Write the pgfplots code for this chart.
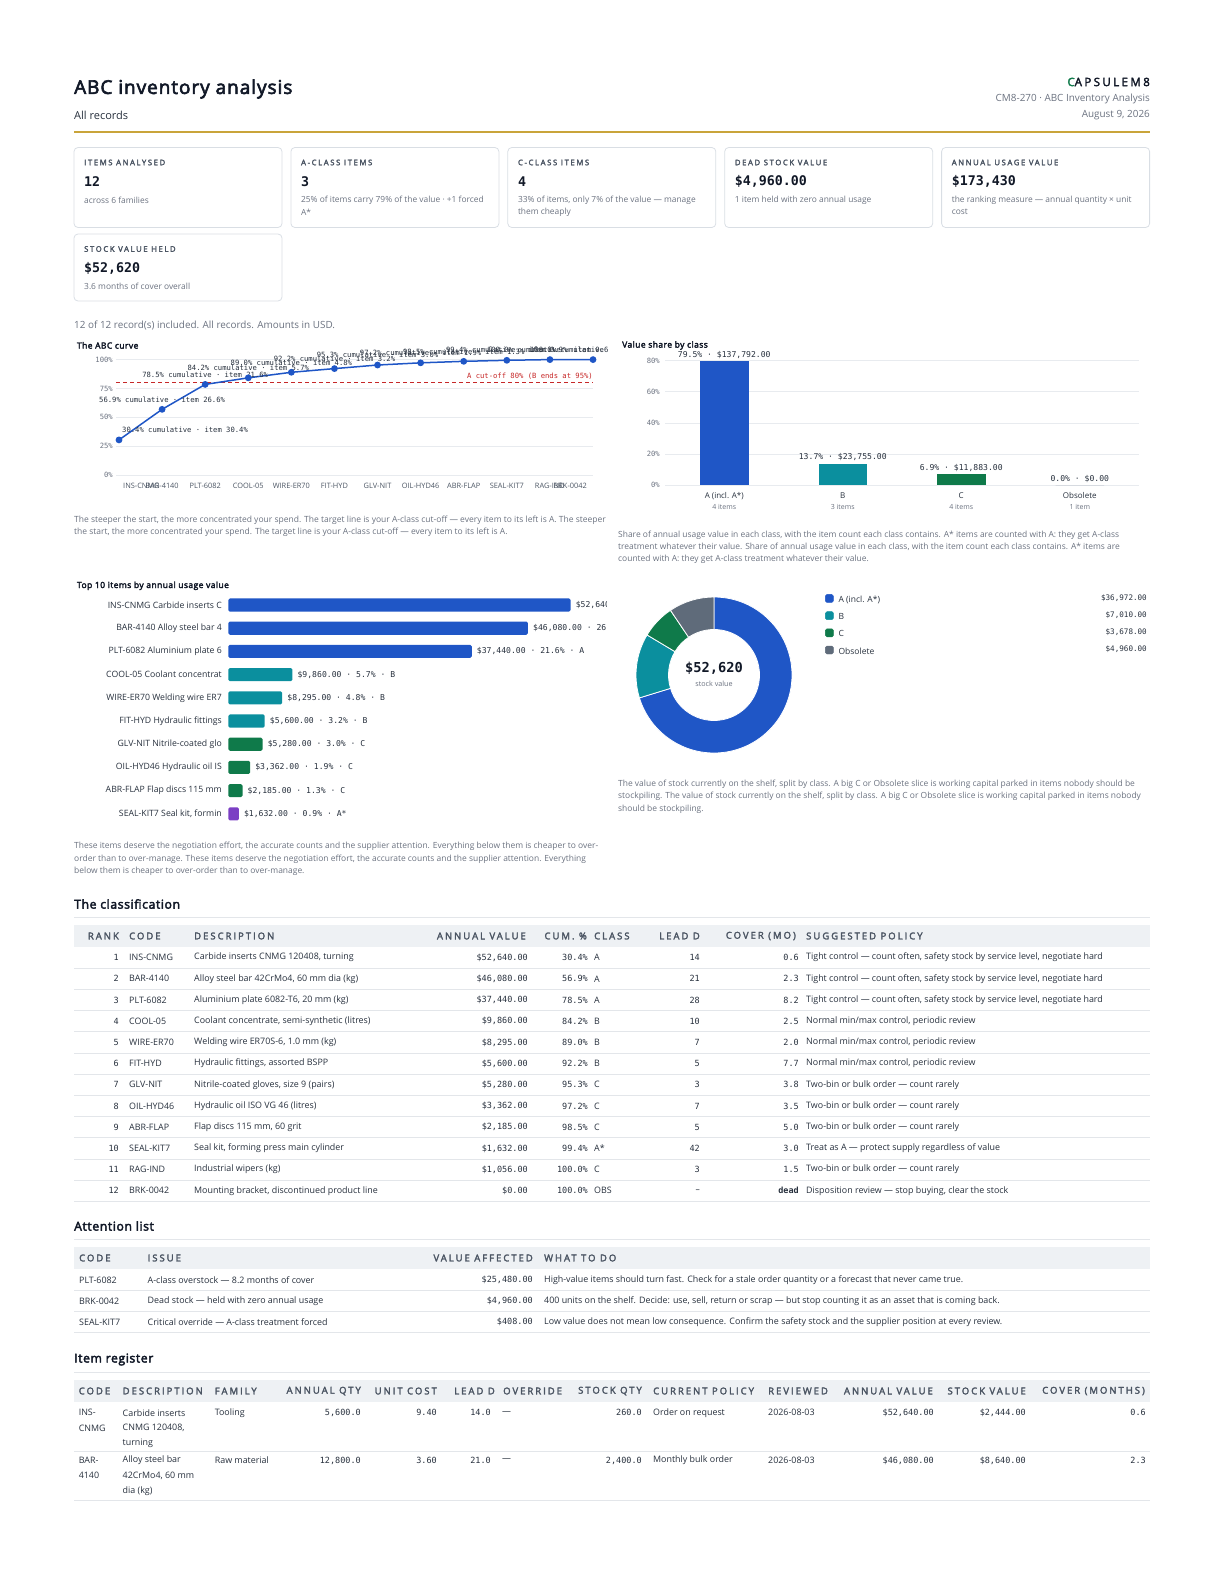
\documentclass[border=0pt]{standalone}
\usepackage{fontspec}
\setmainfont{Open Sans}[BoldFont={Open Sans}, BoldFeatures={FakeBold=3.2, LetterSpace=5}]
\newfontfamily\mono{DejaVu Sans Mono}
\newfontfamily\spaced{Open Sans}[LetterSpace=21, BoldFont={Open Sans}, BoldFeatures={FakeBold=2.8}]
\usepackage{pgfplots}
\pgfplotsset{compat=1.18}
\definecolor{ink}{HTML}{111827}
\definecolor{body}{HTML}{27303D}
\definecolor{muted}{HTML}{6B7280}
\definecolor{hdr}{HTML}{4B5563}
\definecolor{gold}{HTML}{C9A43A}
\definecolor{cardb}{HTML}{D9DEE4}
\definecolor{band}{HTML}{EEF1F4}
\definecolor{rule}{HTML}{E3E6EA}
\definecolor{gridc}{HTML}{E8EBEF}
\definecolor{cA}{HTML}{1F56C6}
\definecolor{cB}{HTML}{0B8F9E}
\definecolor{cC}{HTML}{0F7A4A}
\definecolor{cO}{HTML}{5F6B7A}
\definecolor{cAs}{HTML}{7B3FC4}
\definecolor{cut}{HTML}{C62828}
\tikzset{
 txt/.style={inner sep=0pt, anchor=west, text=body, font=\fontsize{#1}{#1}\selectfont},
 mtx/.style={inner sep=0pt, anchor=west, text=body, font=\mono\fontsize{#1}{#1}\selectfont},
 btx/.style={inner sep=0pt, anchor=west, text=ink, font=\bfseries\fontsize{#1}{#1}\selectfont},
 htx/.style={inner sep=0pt, anchor=west, text=hdr, font=\spaced\bfseries\fontsize{#1}{#1}\selectfont},
}
\newcommand\card[7]{%
 \draw[cardb, line width=0.8pt, rounded corners=4pt] (#1,#2) rectangle ++(208,#3);
 \node[htx=7.7] at (#1+10,#2+15) {#4};
 \node[inner sep=0pt, anchor=west, text=ink, font=\mono\bfseries\fontsize{13.3}{13.3}\selectfont] at (#1+10,#2+34) {#5};
 \node[txt=8.4, text=muted] at (#1+10,#2+52.5) {#6};
 \node[txt=8.4, text=muted] at (#1+10,#2+64.5) {#7};
}
\newcommand\crow[9]{%
 \pgfmathsetmacro\ry{957.6+21.2*(#1-1)}%
 \node[mtx=8.5, anchor=east] at (119,\ry) {#1};
 \node[txt=8.9] at (129,\ry) {#2};
 \node[txt=8.9] at (194,\ry) {#3};
 \node[mtx=8.5, anchor=east] at (528,\ry) {#4};
 \node[mtx=8.5, anchor=east] at (588,\ry) {#5};
 \node[txt=8.9] at (594,\ry) {#6};
 \node[mtx=8.5, anchor=east] at (700,\ry) {#7};
 \node[mtx=8.5, anchor=east] at (799,\ry) {#8};
 \node[txt=8.9] at (806,\ry) {#9};
 \draw[rule, line width=0.8pt] (74,\ry+10.6) -- (1150,\ry+10.6);
}
\newcommand\arow[5]{%
 \node[txt=8.9] at (79,#1) {#2};
 \node[txt=8.9] at (147.5,#1) {#3};
 \node[mtx=8.5, anchor=east] at (533,#1) {#4};
 \node[txt=8.9] at (544,#1) {#5};
 \draw[rule, line width=0.8pt] (74,#1+10.6) -- (1150,#1+10.6);
}
\begin{document}
\begin{tikzpicture}[x=1pt,y=-1pt]
\path (0,0) rectangle (1224,1584);
% ---------- header
\node[btx=19] at (74,89) {ABC inventory analysis};
\node[txt=11] at (74,115) {All records};
\node[inner sep=0pt, anchor=east, text=ink, font=\spaced\bfseries\fontsize{11.5}{11.5}\selectfont] at (1150,82) {{\color{cC}C}APSULEM8};
\node[txt=9.9, anchor=east, text=muted] at (1150,99) {CM8-270 · ABC Inventory Analysis};
\node[txt=9.9, anchor=east, text=muted] at (1150,115.5) {August 9, 2026};
\draw[gold, line width=2pt] (74,132.3) -- (1150,132.3);
% ---------- KPI cards
\card{74}{147.5}{80}{ITEMS ANALYSED}{12}{across 6 families}{}
\card{290.9}{147.5}{80}{A-CLASS ITEMS}{3}{25\% of items carry 79\% of the value · +1 forced}{A*}
\card{507.8}{147.5}{80}{C-CLASS ITEMS}{4}{33\% of items, only 7\% of the value — manage}{them cheaply}
\card{724.7}{147.5}{80}{DEAD STOCK VALUE}{\$4,960.00}{1 item held with zero annual usage}{}
\card{941.6}{147.5}{80}{ANNUAL USAGE VALUE}{\$173,430}{the ranking measure — annual quantity × unit}{cost}
\card{74}{234}{67}{STOCK VALUE HELD}{\$52,620}{3.6 months of cover overall}{}
\node[txt=9.9, text=muted] at (74,325) {12 of 12 record(s) included. All records. Amounts in USD.};
% ---------- ABC curve
\node[btx=8.5] at (76.8,345.4) {The ABC curve};
\coordinate (abcSW) at (116,475);
\begin{scope}
\clip (60,335) rectangle (607,500);
\begin{axis}[
 at={(abcSW)}, anchor=south west, scale only axis, width=477pt, height=115.4pt,
 xmin=-0.0696, xmax=11, ymin=0, ymax=100, enlargelimits=false, clip=false,
 axis line style={draw=none}, major tick length=0pt, tick style={draw=none},
 ymajorgrids, grid style={color=gridc, line width=0.6pt},
 ytick={0,25,50,75,100}, yticklabels={0\%,25\%,50\%,75\%,100\%},
 yticklabel style={font=\mono\fontsize{7.2}{7.2}\selectfont, text=muted, inner sep=0pt, anchor=east, xshift=-3pt},
 xtick={1,2,3,4,5,6,7,8,9,10},
 xticklabels={BAR-4140,PLT-6082,COOL-05,WIRE-ER70,FIT-HYD,GLV-NIT,OIL-HYD46,ABR-FLAP,SEAL-KIT7,RAG-IND},
 xticklabel style={font=\fontsize{7.4}{7.4}\selectfont, text=hdr, inner sep=0pt, anchor=base, yshift=-13.5pt},
]
\addplot[cut, line width=1pt, dash pattern=on 4pt off 3pt] coordinates {(-0.0696,80) (11,80)};
\addplot[cA, line width=1.5pt, mark=*, mark size=2.6pt, mark options={fill=cA, draw=cA, solid}]
 coordinates {(0,30.4) (1,56.9) (2,78.5) (3,84.2) (4,89.0) (5,92.2) (6,95.3) (7,97.2) (8,98.5) (9,99.4) (10,100.0) (11,100.0)};
\node[inner sep=0pt, anchor=east, text=cut, font=\mono\fontsize{7.2}{7.2}\selectfont, yshift=6pt] at (axis cs:11,80) {A cut-off 80\% (B ends at 95\%)};
\tikzset{plab/.style={inner sep=0pt, text=body, font=\mono\fontsize{7.2}{7.2}\selectfont, yshift=10pt}}
\node[plab, anchor=west, xshift=3pt] at (axis cs:0,30.4) {30.4\% cumulative · item 30.4\%};
\node[plab] at (axis cs:1,56.9) {56.9\% cumulative · item 26.6\%};
\node[plab] at (axis cs:2,78.5) {78.5\% cumulative · item 21.6\%};
\node[plab] at (axis cs:3,84.2) {84.2\% cumulative · item 5.7\%};
\node[plab] at (axis cs:4,89.0) {89.0\% cumulative · item 4.8\%};
\node[plab] at (axis cs:5,92.2) {92.2\% cumulative · item 3.2\%};
\node[plab] at (axis cs:6,95.3) {95.3\% cumulative · item 3.0\%};
\node[plab] at (axis cs:7,97.2) {97.2\% cumulative · item 1.9\%};
\node[plab] at (axis cs:8,98.5) {98.5\% cumulative · item 1.3\%};
\node[plab] at (axis cs:9,99.4) {99.4\% cumulative · item 0.9\%};
\node[plab] at (axis cs:11,100.0) {100.0\% cumulative · item 0.0\%};
\node[plab] at (axis cs:10,100.0) {100.0\% cumulative · item 0.6\%};
\node[inner sep=0pt, anchor=base west, text=hdr, font=\fontsize{7.4}{7.4}\selectfont, xshift=4pt, yshift=-13.5pt] at (axis cs:0,0) {INS-CNMG};
\node[inner sep=0pt, anchor=base east, text=hdr, font=\fontsize{7.4}{7.4}\selectfont, xshift=-6pt, yshift=-13.5pt] at (axis cs:11,0) {BRK-0042};
\end{axis}
\end{scope}
\node[txt=8.5, text=muted] at (74,520) {The steeper the start, the more concentrated your spend. The target line is your A-class cut-off — every item to its left is A. The steeper};
\node[txt=8.5, text=muted] at (74,532.5) {the start, the more concentrated your spend. The target line is your A-class cut-off — every item to its left is A.};
% ---------- Value share by class
\node[btx=8.5] at (622,345.4) {Value share by class};
\coordinate (vsSW) at (665,485);
\begin{axis}[
 at={(vsSW)}, anchor=south west, scale only axis, width=474pt, height=124.4pt,
 xmin=-0.5, xmax=3.5, ymin=0, ymax=80, enlargelimits=false, clip=false,
 ybar, bar width=48.5pt, bar shift=0pt,
 axis line style={draw=none}, major tick length=0pt, tick style={draw=none},
 ymajorgrids, grid style={color=gridc, line width=0.6pt},
 ytick={0,20,40,60,80}, yticklabels={0\%,20\%,40\%,60\%,80\%},
 yticklabel style={font=\mono\fontsize{7.2}{7.2}\selectfont, text=muted, inner sep=0pt, anchor=east, xshift=-5pt},
 xtick={0,1,2,3},
 xticklabels={{A (incl. A*)\\{\color{muted}\fontsize{7}{7}\selectfont 4 items}},{B\\{\color{muted}\fontsize{7}{7}\selectfont 3 items}},{C\\{\color{muted}\fontsize{7}{7}\selectfont 4 items}},{Obsolete\\{\color{muted}\fontsize{7}{7}\selectfont 1 item}}},
 xticklabel style={align=center, font=\fontsize{8}{11}\selectfont, text=body, inner sep=0pt, anchor=north, yshift=-7.5pt},
 point meta=explicit symbolic, nodes near coords,
 nodes near coords style={font=\mono\fontsize{8.1}{8.1}\selectfont, text=body, inner sep=0pt, anchor=south, yshift=2.5pt},
]
\addplot[fill=cA, draw=none] coordinates {(0,79.5) [79.5\% · \$137,792.00]};
\addplot[fill=cB, draw=none] coordinates {(1,13.7) [13.7\% · \$23,755.00]};
\addplot[fill=cC, draw=none] coordinates {(2,6.9) [6.9\% · \$11,883.00]};
\addplot[fill=cO, draw=none] coordinates {(3,0) [0.0\% · \$0.00]};
\end{axis}
\node[txt=8.45, text=muted] at (618,535) {Share of annual usage value in each class, with the item count each class contains. A* items are counted with A: they get A-class};
\node[txt=8.45, text=muted] at (618,547.3) {treatment whatever their value. Share of annual usage value in each class, with the item count each class contains. A* items are};
\node[txt=8.45, text=muted] at (618,559.6) {counted with A: they get A-class treatment whatever their value.};
% ---------- Top 10
\node[btx=8.5] at (76.8,585.8) {Top 10 items by annual usage value};
\coordinate (topNW) at (228.3,593.4);
\begin{scope}
\clip (60,590) rectangle (606,830);
\begin{axis}[
 at={(topNW)}, anchor=north west, scale only axis, width=342.3pt, height=232pt,
 xmin=0, xmax=52640, ymin=-0.5, ymax=9.5, y dir=reverse, enlargelimits=false, clip=false,
 xbar, bar width=13.1pt, bar shift=0pt,
 axis line style={draw=none}, major tick length=0pt, tick style={draw=none},
 xtick=\empty, ytick={0,1,2,3,4,5,6,7,8,9},
 yticklabels={INS-CNMG Carbide inserts C,BAR-4140 Alloy steel bar 4,PLT-6082 Aluminium plate 6,COOL-05 Coolant concentrat,WIRE-ER70 Welding wire ER7,FIT-HYD Hydraulic fittings,GLV-NIT Nitrile-coated glo,OIL-HYD46 Hydraulic oil IS,ABR-FLAP Flap discs 115 mm,{SEAL-KIT7 Seal kit, formin}},
 yticklabel style={font=\fontsize{8.7}{8.7}\selectfont, text=body, inner sep=0pt, anchor=east, xshift=-6.3pt},
 point meta=explicit symbolic, nodes near coords, nodes near coords align={horizontal},
 nodes near coords style={font=\mono\fontsize{8.1}{8.1}\selectfont, text=body, inner sep=0pt, anchor=west, xshift=5pt},
]
\addplot[fill=cA, draw=none, rounded corners=1.5pt] coordinates {(52640,0) [\$52,640.00 · 30.4\% · A] (46080,1) [\$46,080.00 · 26.6\% · A] (37440,2) [\$37,440.00 · 21.6\% · A]};
\addplot[fill=cB, draw=none, rounded corners=1.5pt] coordinates {(9860,3) [\$9,860.00 · 5.7\% · B] (8295,4) [\$8,295.00 · 4.8\% · B] (5600,5) [\$5,600.00 · 3.2\% · B]};
\addplot[fill=cC, draw=none, rounded corners=1.5pt] coordinates {(5280,6) [\$5,280.00 · 3.0\% · C] (3362,7) [\$3,362.00 · 1.9\% · C] (2185,8) [\$2,185.00 · 1.3\% · C]};
\addplot[fill=cAs, draw=none, rounded corners=1.5pt] coordinates {(1632,9) [\$1,632.00 · 0.9\% · A*]};
\end{axis}
\end{scope}
\node[txt=8.45, text=muted] at (74,846) {These items deserve the negotiation effort, the accurate counts and the supplier attention. Everything below them is cheaper to over-};
\node[txt=8.45, text=muted] at (74,859) {order than to over-manage. These items deserve the negotiation effort, the accurate counts and the supplier attention. Everything};
\node[txt=8.45, text=muted] at (74,871.5) {below them is cheaper to over-order than to over-manage.};
% ---------- Donut
\edef\dT{\fpeval{36972+7010+3678+4960}}
\edef\dA{\fpeval{90-360*36972/\dT}}
\edef\dB{\fpeval{\dA-360*7010/\dT}}
\edef\dC{\fpeval{\dB-360*3678/\dT}}
\coordinate (donC) at (714,675);
\begin{axis}[
 at={(donC)}, anchor=center, scale only axis, width=156pt, height=156pt,
 xmin=-1, xmax=1, ymin=-1, ymax=1, hide axis, clip=false,
 legend style={at={(1.2115,1.019)}, anchor=north west, draw=none, fill=none, inner sep=0pt,
  row sep=7pt, font=\fontsize{8.5}{8.5}\selectfont, text=body,
  nodes={inner sep=0pt, text height=6pt, text depth=2pt},
  /tikz/every odd column/.append style={column sep=5pt}},
 legend cell align=left,
]
\addlegendimage{legend image code/.code={\fill[cA, rounded corners=1.5pt] (0pt,-2pt) rectangle (8pt,6pt);}}
\addlegendentry{A (incl. A*)}
\addlegendimage{legend image code/.code={\fill[cB, rounded corners=1.5pt] (0pt,-2pt) rectangle (8pt,6pt);}}
\addlegendentry{B}
\addlegendimage{legend image code/.code={\fill[cC, rounded corners=1.5pt] (0pt,-2pt) rectangle (8pt,6pt);}}
\addlegendentry{C}
\addlegendimage{legend image code/.code={\fill[cO, rounded corners=1.5pt] (0pt,-2pt) rectangle (8pt,6pt);}}
\addlegendentry{Obsolete}
\fill[cA, draw=white, line width=0.8pt, shift={(axis cs:0,0)}] (90:78pt) arc[start angle=90, end angle=\dA, radius=78pt] -- (\dA:45.5pt) arc[start angle=\dA, end angle=90, radius=45.5pt] -- cycle;
\fill[cB, draw=white, line width=0.8pt, shift={(axis cs:0,0)}] (\dA:78pt) arc[start angle=\dA, end angle=\dB, radius=78pt] -- (\dB:45.5pt) arc[start angle=\dB, end angle=\dA, radius=45.5pt] -- cycle;
\fill[cC, draw=white, line width=0.8pt, shift={(axis cs:0,0)}] (\dB:78pt) arc[start angle=\dB, end angle=\dC, radius=78pt] -- (\dC:45.5pt) arc[start angle=\dC, end angle=\dB, radius=45.5pt] -- cycle;
\fill[cO, draw=white, line width=0.8pt, shift={(axis cs:0,0)}] (\dC:78pt) arc[start angle=\dC, end angle=-270, radius=78pt] -- (-270:45.5pt) arc[start angle=-270, end angle=\dC, radius=45.5pt] -- cycle;
\end{axis}
\node[inner sep=0pt, text=ink, font=\mono\bfseries\fontsize{13.7}{13.7}\selectfont] at (714,668) {\$52,620};
\node[inner sep=0pt, text=muted, font=\fontsize{7.2}{7.2}\selectfont] at (714,684) {stock value};
\node[mtx=7.6, anchor=east] at (1147,598) {\$36,972.00};
\node[mtx=7.6, anchor=east] at (1147,615) {\$7,010.00};
\node[mtx=7.6, anchor=east] at (1147,632) {\$3,678.00};
\node[mtx=7.6, anchor=east] at (1147,649) {\$4,960.00};
\node[txt=8.45, text=muted] at (618,784) {The value of stock currently on the shelf, split by class. A big C or Obsolete slice is working capital parked in items nobody should be};
\node[txt=8.45, text=muted] at (618,796.5) {stockpiling. The value of stock currently on the shelf, split by class. A big C or Obsolete slice is working capital parked in items nobody};
\node[txt=8.45, text=muted] at (618,809) {should be stockpiling.};
% ---------- Classification table
\node[btx=12.2] at (74,904) {The classification};
\draw[rule, line width=1pt] (74,917) -- (1150,917);
\fill[band] (74,925) rectangle (1150,947);
\node[htx=9.5, anchor=east] at (119,936) {RANK};
\node[htx=9.5] at (129,936) {CODE};
\node[htx=9.5] at (194,936) {DESCRIPTION};
\node[htx=9.5, anchor=east] at (526,936) {ANNUAL VALUE};
\node[htx=9.5, anchor=east] at (587,936) {CUM. \%};
\node[htx=9.5] at (594,936) {CLASS};
\node[htx=9.5, anchor=east] at (700,936) {LEAD D};
\node[htx=9.5, anchor=east] at (796,936) {COVER (MO)};
\node[htx=9.5] at (806,936) {SUGGESTED POLICY};
\crow{1}{INS-CNMG}{Carbide inserts CNMG 120408, turning}{\$52,640.00}{30.4\%}{A}{14}{0.6}{Tight control — count often, safety stock by service level, negotiate hard}
\crow{2}{BAR-4140}{Alloy steel bar 42CrMo4, 60 mm dia (kg)}{\$46,080.00}{56.9\%}{A}{21}{2.3}{Tight control — count often, safety stock by service level, negotiate hard}
\crow{3}{PLT-6082}{Aluminium plate 6082-T6, 20 mm (kg)}{\$37,440.00}{78.5\%}{A}{28}{8.2}{Tight control — count often, safety stock by service level, negotiate hard}
\crow{4}{COOL-05}{Coolant concentrate, semi-synthetic (litres)}{\$9,860.00}{84.2\%}{B}{10}{2.5}{Normal min/max control, periodic review}
\crow{5}{WIRE-ER70}{Welding wire ER70S-6, 1.0 mm (kg)}{\$8,295.00}{89.0\%}{B}{7}{2.0}{Normal min/max control, periodic review}
\crow{6}{FIT-HYD}{Hydraulic fittings, assorted BSPP}{\$5,600.00}{92.2\%}{B}{5}{7.7}{Normal min/max control, periodic review}
\crow{7}{GLV-NIT}{Nitrile-coated gloves, size 9 (pairs)}{\$5,280.00}{95.3\%}{C}{3}{3.8}{Two-bin or bulk order — count rarely}
\crow{8}{OIL-HYD46}{Hydraulic oil ISO VG 46 (litres)}{\$3,362.00}{97.2\%}{C}{7}{3.5}{Two-bin or bulk order — count rarely}
\crow{9}{ABR-FLAP}{Flap discs 115 mm, 60 grit}{\$2,185.00}{98.5\%}{C}{5}{5.0}{Two-bin or bulk order — count rarely}
\crow{10}{SEAL-KIT7}{Seal kit, forming press main cylinder}{\$1,632.00}{99.4\%}{A*}{42}{3.0}{Treat as A — protect supply regardless of value}
\crow{11}{RAG-IND}{Industrial wipers (kg)}{\$1,056.00}{100.0\%}{C}{3}{1.5}{Two-bin or bulk order — count rarely}
\crow{12}{BRK-0042}{Mounting bracket, discontinued product line}{\$0.00}{100.0\%}{OBS}{{\fontspec{Open Sans}–}}{\bfseries dead}{Disposition review — stop buying, clear the stock}
% ---------- Attention list
\node[btx=12.2] at (74,1226) {Attention list};
\draw[rule, line width=1pt] (74,1239) -- (1150,1239);
\fill[band] (74,1247) rectangle (1150,1269);
\node[htx=9.5] at (79,1258) {CODE};
\node[htx=9.5] at (147.5,1258) {ISSUE};
\node[htx=9.5, anchor=east] at (533,1258) {VALUE AFFECTED};
\node[htx=9.5] at (544,1258) {WHAT TO DO};
\arow{1279.8}{PLT-6082}{A-class overstock — 8.2 months of cover}{\$25,480.00}{High-value items should turn fast. Check for a stale order quantity or a forecast that never came true.}
\arow{1301}{BRK-0042}{Dead stock — held with zero annual usage}{\$4,960.00}{400 units on the shelf. Decide: use, sell, return or scrap — but stop counting it as an asset that is coming back.}
\arow{1322.2}{SEAL-KIT7}{Critical override — A-class treatment forced}{\$408.00}{Low value does not mean low consequence. Confirm the safety stock and the supplier position at every review.}
% ---------- Item register
\node[btx=12.2] at (74,1359.5) {Item register};
\draw[rule, line width=1pt] (74,1372) -- (1150,1372);
\fill[band] (74,1380) rectangle (1150,1402);
\node[htx=9.5] at (78.6,1391) {CODE};
\node[htx=9.5] at (122.5,1391) {DESCRIPTION};
\node[htx=9.5] at (214.6,1391) {FAMILY};
\node[htx=9.5, anchor=east] at (361,1391) {ANNUAL QTY};
\node[htx=9.5, anchor=east] at (437,1391) {UNIT COST};
\node[htx=9.5, anchor=east] at (495,1391) {LEAD D};
\node[htx=9.5] at (503,1391) {OVERRIDE};
\node[htx=9.5, anchor=east] at (642,1391) {STOCK QTY};
\node[htx=9.5] at (653,1391) {CURRENT POLICY};
\node[htx=9.5] at (768,1391) {REVIEWED};
\node[htx=9.5, anchor=east] at (933,1391) {ANNUAL VALUE};
\node[htx=9.5, anchor=east] at (1026,1391) {STOCK VALUE};
\node[htx=9.5, anchor=east] at (1145,1391) {COVER (MONTHS)};
% row 1
\node[txt=8.9] at (78.6,1412.7) {INS-};
\node[txt=8.9] at (78.6,1427.9) {CNMG};
\node[txt=8.9] at (122.5,1412.7) {Carbide inserts};
\node[txt=8.9] at (122.5,1427.9) {CNMG 120408,};
\node[txt=8.9] at (122.5,1443.1) {turning};
\node[txt=8.9] at (214.6,1412.7) {Tooling};
\node[mtx=8.5, anchor=east] at (361,1412.7) {5,600.0};
\node[mtx=8.5, anchor=east] at (437,1412.7) {9.40};
\node[mtx=8.5, anchor=east] at (491,1412.7) {14.0};
\node[txt=8.9] at (502,1412.7) {—};
\node[mtx=8.5, anchor=east] at (642,1412.7) {260.0};
\node[txt=8.9] at (653,1412.7) {Order on request};
\node[txt=8.9] at (768,1412.7) {2026-08-03};
\node[mtx=8.5, anchor=east] at (934,1412.7) {\$52,640.00};
\node[mtx=8.5, anchor=east] at (1026,1412.7) {\$2,444.00};
\node[mtx=8.5, anchor=east] at (1146,1412.7) {0.6};
\draw[rule, line width=0.8pt] (74,1451) -- (1150,1451);
% row 2
\node[txt=8.9] at (78.6,1460.5) {BAR-};
\node[txt=8.9] at (78.6,1475.7) {4140};
\node[txt=8.9] at (122.5,1460.5) {Alloy steel bar};
\node[txt=8.9] at (122.5,1475.7) {42CrMo4, 60 mm};
\node[txt=8.9] at (122.5,1490.9) {dia (kg)};
\node[txt=8.9] at (214.6,1460.5) {Raw material};
\node[mtx=8.5, anchor=east] at (361,1460.5) {12,800.0};
\node[mtx=8.5, anchor=east] at (437,1460.5) {3.60};
\node[mtx=8.5, anchor=east] at (491,1460.5) {21.0};
\node[txt=8.9] at (502,1460.5) {—};
\node[mtx=8.5, anchor=east] at (642,1460.5) {2,400.0};
\node[txt=8.9] at (653,1460.5) {Monthly bulk order};
\node[txt=8.9] at (768,1460.5) {2026-08-03};
\node[mtx=8.5, anchor=east] at (934,1460.5) {\$46,080.00};
\node[mtx=8.5, anchor=east] at (1026,1460.5) {\$8,640.00};
\node[mtx=8.5, anchor=east] at (1146,1460.5) {2.3};
\draw[rule, line width=0.8pt] (74,1500) -- (1150,1500);
\end{tikzpicture}
\end{document}
